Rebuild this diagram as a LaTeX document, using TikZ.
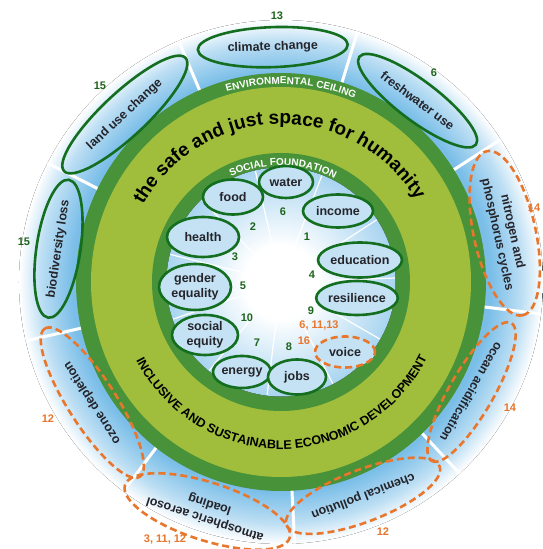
\documentclass[tikz,border=0pt]{standalone}
\usepackage{fontspec}
\setmainfont{Liberation Sans}
\usepackage{tikz}
\usetikzlibrary{shapes.geometric,decorations.text}

\definecolor{ringgreen}{RGB}{72,146,58}
\definecolor{olive}{RGB}{160,190,60}
\definecolor{linegreen}{RGB}{20,110,32}
\definecolor{numgreen}{RGB}{28,100,28}
\definecolor{dashorange}{RGB}{232,118,44}
\definecolor{skyblue}{RGB}{122,190,232}
\definecolor{paleblue}{RGB}{196,226,244}
\definecolor{labelgray}{RGB}{36,36,42}

\pgfdeclareradialshading{bandglow}{\pgfpointorigin}{%
  color(0bp)=(skyblue); color(20bp)=(skyblue); color(23bp)=(skyblue!50!white);
  color(25bp)=(white); color(50bp)=(white)}
\pgfdeclareradialshading{coreglow}{\pgfpointorigin}{%
  color(0bp)=(white); color(8bp)=(white); color(25bp)=(skyblue!65!white);
  color(50bp)=(skyblue!65!white)}

\begin{document}
\begin{tikzpicture}[x=1pt,y=1pt,
    bound/.style={ellipse,draw=linegreen,line width=2.6pt,inner sep=0pt,
      align=center,text=labelgray,font=\fontsize{12.5}{15.5}\selectfont\bfseries},
    beyond/.style={bound,draw=dashorange,dash pattern=on 7pt off 4pt},
    need/.style={bound,fill=paleblue},
    needout/.style={need,draw=dashorange,dash pattern=on 7pt off 4pt},
    num/.style={font=\fontsize{11}{13}\selectfont\bfseries,text=numgreen,inner sep=1pt},
    numout/.style={num,text=dashorange},
    spoke/.style={draw=white,line width=3pt},
    ray/.style={draw=white,line width=1.2pt}
  ]
    \useasboundingbox (-281,-267) rectangle (261,282);
    \fill[white] (-281,-267) rectangle (261,282);

    \fill[shading=bandglow] (0,0) circle (262);
    \foreach \a in {33,73,...,353} {\draw[spoke] (\a:200) -- (\a:262);}

    \fill[ringgreen] (0,0) ellipse [x radius=205,y radius=209];
    \fill[olive] (0,0) ellipse [x radius=190,y radius=195];
    \fill[ringgreen] (0,0) circle (129);
    \fill[shading=coreglow] (0,0) circle (114.5);
    \foreach \a in {103,69,33,2,-30,-63,-97,-129,-161,166,134} {\draw[ray] (0,0) -- (\a:114);}

    \path[decorate,decoration={text along path,text align=center,text color=white,
      text={|\fontsize{10}{12}\selectfont\bfseries|ENVIRONMENTAL CEILING}}]
      (127:194 and 198) arc [start angle=127,end angle=47,x radius=194,y radius=198];
    \path[decorate,decoration={text along path,text align=center,text color=white,
      text={|\fontsize{10}{12}\selectfont\bfseries|SOCIAL FOUNDATION}}]
      (134:116.5) arc [start angle=134,end angle=44,radius=116.5];
    \path[decorate,decoration={text along path,text align=center,text color=black,
      text={|\fontsize{19}{22}\selectfont\bfseries|the safe and just space for humanity}}]
      (160:158) arc [start angle=160,end angle=22,radius=158];
    \path[decorate,decoration={text along path,text align=center,text color=black,
      text={|\fontsize{12.5}{14}\selectfont\bfseries|INCLUSIVE AND SUSTAINABLE ECONOMIC DEVELOPMENT}}]
      (200:164 and 167) arc [start angle=200,end angle=341,x radius=164,y radius=167];

    \foreach \nm/\a/\r/\w/\h/\txt in {climate/92/235/150/40/{climate change},
        fresh/53/227/146/40/{freshwater use},
        landuse/133/229/166/44/{land use change},
        biodiv/171.5/225/138/44/{biodiversity loss}} {
      \node[bound,rotate=\a-90,minimum width=\w pt,minimum height=\h pt] (\nm) at (\a:\r) {\txt};
    }
    \foreach \nm/\a/\r/\w/\h/\txt in {nitro/12.3/229/168/62/{nitrogen and\\phosphorus cycles},
        ocean/330/220/152/44/{ocean acidification},
        chem/291/229/164/52/{chemical pollution},
        aerosol/252.2/241/172/58/{atmospheric aerosol\\loading},
        ozone/212.6/224/176/48/{ozone depletion}} {
      \node[beyond,rotate=\a-90,minimum width=\w pt,minimum height=\h pt] (\nm) at (\a:\r) {\txt};
    }

    \foreach \nm/\x/\y/\w/\h/\txt in {water/5/100/54/32/water,
        food/-48/85/60/35/food,
        income/57/71/70/33/income,
        health/-78/45/72/40/health,
        education/79/22/84/35/education,
        gender/-86/-5/72/46/{gender\\equality},
        resilience/76/-16/80/34/resilience,
        equity/-76/-53/66/40/{social\\equity},
        energy/-39/-90/56/32/energy,
        jobs/16/-95/58/35/jobs} {
      \node[need,minimum width=\w pt,minimum height=\h pt] (\nm) at (\x,\y) {\txt};
    }
    \node[needout,minimum width=60pt,minimum height=31pt] (voice) at (64,-70) {voice};

    \foreach \nm/\x/\y/\t in {climate/-4/266/13, fresh/153/209/6, landuse/-181/196/15,
        biodiv/-257/40/15, water/2/70/6, food/-28/55/2, income/26/45/1,
        health/-46/25/3, education/31/7/4, gender/-38/-4/5, resilience/30/-29/9,
        equity/-34/-36/10, energy/-24/-61/7, jobs/8/-65/8} {
      \node[num] (n-\nm) at (\x,\y) {\t};
    }
    \foreach \nm/\x/\y/\t in {nitro/253/74/14, ocean/229/-126/14, chem/102/-250/12,
        aerosol/-116/-258/{3, 11, 12}, ozone/-233/-137/12,
        voice/38/-44/{6, 11,13}, voicex/23/-59/16} {
      \node[numout] (n-\nm) at (\x,\y) {\t};
    }
\end{tikzpicture}
\end{document}
